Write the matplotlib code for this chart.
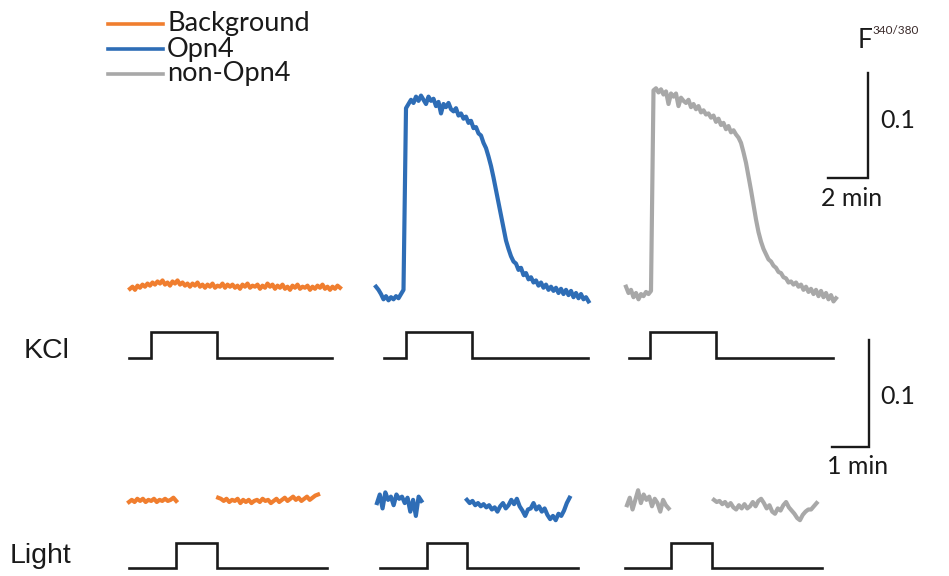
import numpy as np
import matplotlib
matplotlib.use("Agg")
import matplotlib.pyplot as plt
from matplotlib.lines import Line2D

# ---------------- data (F340/380 change, minutes) ----------------
series_names = ["Background", "Opn4", "non-Opn4"]
series_colors = ["#F07E2F", "#2E6DB6", "#A8A8A8"]

# KCl responses (sampled every 0.125 min)
kcl_dt = 0.125
kcl_background = [
    0.004, 0.006, 0.003, 0.007, 0.005, 0.008, 0.006, 0.009, 0.007, 0.010,
    0.008, 0.011, 0.009, 0.012, 0.008, 0.010, 0.007, 0.011, 0.009, 0.012,
    0.008, 0.010, 0.007, 0.009, 0.006, 0.009, 0.007, 0.010, 0.006, 0.008,
    0.005, 0.008, 0.006, 0.009, 0.005, 0.007, 0.006, 0.009, 0.005, 0.008,
    0.006, 0.008, 0.005, 0.007, 0.004, 0.008, 0.006, 0.009, 0.005, 0.007,
    0.006, 0.008, 0.004, 0.007, 0.005, 0.009, 0.006, 0.008, 0.004, 0.007,
    0.005, 0.008, 0.004, 0.006, 0.003, 0.007, 0.005, 0.008, 0.004, 0.006,
    0.005, 0.007, 0.003, 0.006, 0.004, 0.007, 0.005, 0.008, 0.004, 0.006,
    0.003, 0.006, 0.004, 0.007, 0.005]
kcl_opn4 = [
    0.006, 0.003, -0.001, -0.006, -0.003, -0.007, -0.004, -0.006, -0.003, -0.005,
    -0.001, 0.003, 0.176, 0.180, 0.184, 0.181, 0.187, 0.183, 0.188, 0.184,
    0.180, 0.187, 0.183, 0.185, 0.178, 0.182, 0.171, 0.180, 0.177, 0.181,
    0.175, 0.173, 0.176, 0.169, 0.171, 0.166, 0.168, 0.162, 0.164, 0.157,
    0.158, 0.152, 0.150, 0.143, 0.138, 0.130, 0.121, 0.110, 0.098, 0.086,
    0.074, 0.062, 0.050, 0.042, 0.035, 0.030, 0.028, 0.022, 0.024, 0.017,
    0.019, 0.013, 0.015, 0.010, 0.012, 0.007, 0.010, 0.005, 0.008, 0.003,
    0.006, 0.002, 0.005, 0.000, 0.004, -0.001, 0.003, -0.002, 0.002, -0.004,
    0.000, -0.005, -0.001, -0.006, -0.004, -0.008]
kcl_non_opn4 = [
    0.006, 0.000, 0.003, -0.004, 0.000, -0.006, -0.001, -0.003, 0.001, -0.001,
    0.002, 0.193, 0.195, 0.191, 0.194, 0.189, 0.192, 0.180, 0.190, 0.187,
    0.190, 0.178, 0.186, 0.183, 0.181, 0.184, 0.177, 0.180, 0.175, 0.178,
    0.172, 0.174, 0.170, 0.171, 0.167, 0.169, 0.163, 0.166, 0.160, 0.162,
    0.156, 0.159, 0.153, 0.155, 0.151, 0.148, 0.143, 0.134, 0.124, 0.111,
    0.098, 0.084, 0.070, 0.058, 0.049, 0.042, 0.037, 0.032, 0.030, 0.026,
    0.024, 0.020, 0.019, 0.015, 0.014, 0.010, 0.011, 0.008, 0.010, 0.006,
    0.008, 0.003, 0.006, 0.001, 0.004, -0.001, 0.003, -0.003, 0.002, -0.004,
    0.000, -0.006, -0.002, -0.008, -0.005]
# KCl application (start of trace, on, off, end) in min
kcl_steps = [(-0.05, 1.05, 4.35, 10.1),
             (0.4, 1.5, 4.8, 10.6),
             (0.15, 1.2, 4.5, 10.35)]

# Light responses (sampled every 0.075 min), before / after gap
light_dt = 0.075
light_background_pre = [0.000, 0.002, 0.000, 0.003, 0.001, 0.003, 0.000, 0.002, 0.001,
                        0.003, 0.000, 0.002, 0.001, 0.003, 0.001, 0.002, 0.004, 0.001]
light_background_post = [0.004, 0.003, 0.001, 0.003, 0.000, 0.002, 0.001, 0.003, -0.001,
                         0.002, 0.000, 0.002, -0.001, 0.001, 0.002, 0.000, 0.003, 0.001,
                         0.002, -0.001, 0.001, 0.003, 0.000, 0.002, 0.004, 0.001, 0.003,
                         0.005, 0.002, 0.004, 0.001, 0.003, 0.005, 0.002, 0.004, 0.006, 0.007]
light_opn4_pre = [-0.001, 0.007, -0.006, 0.009, 0.002, 0.005, -0.003, 0.007, 0.003,
                  0.005, -0.001, 0.004, -0.009, 0.002, -0.013, 0.005, 0.001]
light_opn4_post = [0.002, -0.001, 0.001, -0.003, -0.001, -0.004, -0.002, -0.005, -0.003,
                   -0.007, -0.005, -0.009, -0.004, -0.001, -0.006, -0.003, 0.002, -0.002,
                   0.003, -0.004, -0.008, -0.013, -0.007, -0.006, -0.001, -0.007, -0.004,
                   -0.009, -0.006, -0.012, -0.016, -0.013, -0.017, -0.011, -0.013, -0.008,
                   -0.001, 0.004]
light_non_opn4_pre = [-0.003, 0.004, -0.007, 0.002, 0.011, -0.001, 0.007, 0.002,
                      0.005, -0.004, 0.003, -0.001, -0.009, 0.002, -0.003, -0.006]
light_non_opn4_post = [0.002, 0.000, 0.001, -0.002, 0.000, -0.004, -0.001, -0.005, -0.007,
                       -0.003, -0.006, -0.002, -0.006, -0.004, 0.000, -0.004, 0.001, 0.003,
                       -0.001, -0.006, -0.003, -0.009, -0.011, -0.006, -0.008, -0.003, 0.000,
                       -0.005, -0.008, -0.011, -0.015, -0.017, -0.012, -0.009, -0.007, -0.007,
                       -0.004, -0.001]
light_post_start = [2.41, 2.43, 2.35]          # min, start of post-light segment
light_steps = [(0.0, 1.27, 2.38, 5.35),
               (0.08, 1.35, 2.43, 5.43),
               (-0.05, 1.19, 2.30, 5.27)]

# ---------------- figure ----------------
W, H, DPI = 949, 576, 100
fig = plt.figure(figsize=(W / DPI, H / DPI), dpi=DPI)
fig.patch.set_facecolor("white")

def fx(px):
    return px / W

def fy(py):
    return 1 - py / H

# layout (pixels)
TOP_PX_MIN, TOP_PX_UNIT, TOP_BASE = 20.0, 1050.0, 293.0
BOT_PX_MIN, BOT_PX_UNIT, BOT_BASE = 37.0, 1070.0, 502.0
top_cols = [130, 376, 626]
bot_cols = [129, 377, 627]
KCL_LOW, KCL_HIGH = 358.0, 332.0
LIGHT_LOW, LIGHT_HIGH = 568.0, 543.0

def full_axes(px_per_x, base_py, px_per_y):
    ax = fig.add_axes([0, 0, 1, 1])
    ax.set_xlim(0, W / px_per_x)
    ax.set_ylim((base_py - H) / px_per_y, base_py / px_per_y)
    ax.axis("off")
    ax.patch.set_alpha(0)
    return ax

ax_top = full_axes(TOP_PX_MIN, TOP_BASE, TOP_PX_UNIT)
ax_kcl = full_axes(TOP_PX_MIN, KCL_LOW, KCL_LOW - KCL_HIGH)
ax_bot = full_axes(BOT_PX_MIN, BOT_BASE, BOT_PX_UNIT)
ax_light = full_axes(BOT_PX_MIN, LIGHT_LOW, LIGHT_LOW - LIGHT_HIGH)

TRACE_LW = 3.0
STEP_LW = 1.9
BLACK = "#1a1a1a"

kcl_traces = [kcl_background, kcl_opn4, kcl_non_opn4]
for i, vals in enumerate(kcl_traces):
    off = top_cols[i] / TOP_PX_MIN
    t = np.arange(len(vals)) * kcl_dt + off
    ax_top.plot(t, vals, color=series_colors[i], lw=TRACE_LW, solid_joinstyle="round")
    s, on, of, e = kcl_steps[i]
    ax_kcl.plot(np.array([s, on, on, of, of, e]) + off, [0, 0, 1, 1, 0, 0],
                color=BLACK, lw=STEP_LW, solid_joinstyle="miter")

light_traces = [(light_background_pre, light_background_post),
                (light_opn4_pre, light_opn4_post),
                (light_non_opn4_pre, light_non_opn4_post)]
for i, (pre, post) in enumerate(light_traces):
    off = bot_cols[i] / BOT_PX_MIN
    t1 = np.arange(len(pre)) * light_dt + off
    t2 = np.arange(len(post)) * light_dt + light_post_start[i] + off
    ax_bot.plot(t1, pre, color=series_colors[i], lw=TRACE_LW, solid_joinstyle="round")
    ax_bot.plot(t2, post, color=series_colors[i], lw=TRACE_LW, solid_joinstyle="round")
    s, on, of, e = light_steps[i]
    ax_light.plot(np.array([s, on, on, of, of, e]) + off, [0, 0, 1, 1, 0, 0],
                  color=BLACK, lw=STEP_LW, solid_joinstyle="miter")

# scale bars (0.1 ratio, 2 min / 1 min)
sb_top_x = 868 / TOP_PX_MIN
sb_top_y = (TOP_BASE - 178) / TOP_PX_UNIT
ax_top.plot([sb_top_x - 2, sb_top_x, sb_top_x], [sb_top_y, sb_top_y, sb_top_y + 0.1],
            color=BLACK, lw=1.7, solid_joinstyle="miter")
sb_bot_x = 869 / BOT_PX_MIN
sb_bot_y = (BOT_BASE - 447) / BOT_PX_UNIT
ax_bot.plot([sb_bot_x - 1, sb_bot_x, sb_bot_x], [sb_bot_y, sb_bot_y, sb_bot_y + 0.1],
            color=BLACK, lw=1.7, solid_joinstyle="miter")

TXT_FONT = ["Lato", "DejaVu Sans"]
LBL_FONT = ["Liberation Sans", "DejaVu Sans"]
TXT_SIZE = 18
LEG_SIZE = 19.5

fig.text(fx(858), fy(41), "F", fontsize=19, family=TXT_FONT, color=BLACK,
         ha="left", va="center")
fig.text(fx(872), fy(31), "340/380", fontsize=8.5, family=TXT_FONT, color="#3a2a2a",
         ha="left", va="center")
fig.text(fx(880), fy(121), "0.1", fontsize=TXT_SIZE, family=TXT_FONT, color=BLACK,
         ha="left", va="center")
fig.text(fx(852), fy(199), "2 min", fontsize=TXT_SIZE, family=TXT_FONT, color=BLACK,
         ha="center", va="center")
fig.text(fx(880), fy(396), "0.1", fontsize=TXT_SIZE, family=TXT_FONT, color=BLACK,
         ha="left", va="center")
fig.text(fx(858), fy(467), "1 min", fontsize=TXT_SIZE, family=TXT_FONT, color=BLACK,
         ha="center", va="center")

fig.text(fx(24), fy(351), "KCl", fontsize=20.5, family=LBL_FONT, color=BLACK,
         ha="left", va="center")
fig.text(fx(10), fy(556), "Light", fontsize=20.5, family=LBL_FONT, color=BLACK,
         ha="left", va="center")

# legend
leg_y = [24, 49, 74]
for name, col, yy in zip(series_names, series_colors, leg_y):
    fig.add_artist(Line2D([fx(108), fx(163)], [fy(yy), fy(yy)], color=col, lw=2.6,
                          transform=fig.transFigure))
    fig.text(fx(167), fy(yy), name, fontsize=LEG_SIZE, family=TXT_FONT, color=BLACK,
             ha="left", va="center")

fig.savefig("out.png", dpi=DPI, facecolor="white")
